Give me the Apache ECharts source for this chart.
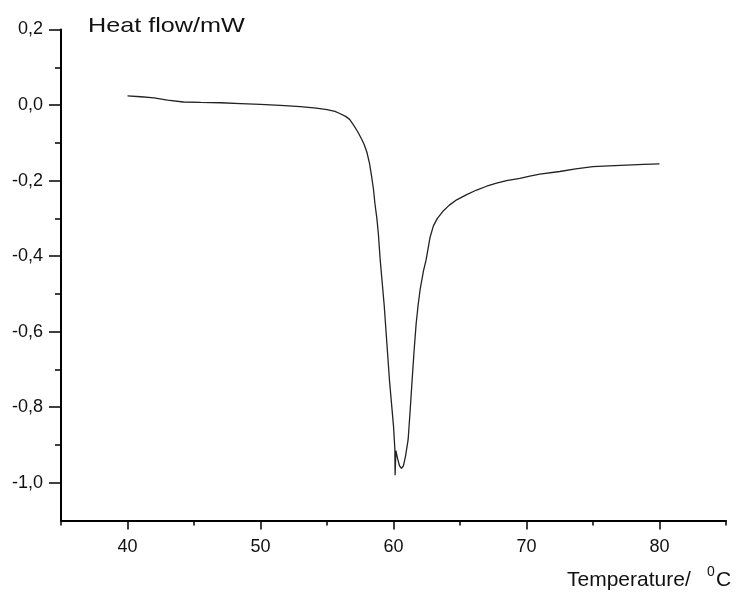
<!doctype html>
<html lang="en">
  <head>
    <meta charset="UTF-8" />
    <title>Heat flow vs temperature</title>
    <style>
      html, body { margin: 0; padding: 0; background: #fff; }
      #chart { width: 746px; height: 596px; }
    </style>
  </head>
  <body>
    <div id="chart"></div>

    <script src="https://cdn.jsdelivr.net/npm/echarts@6/dist/echarts.min.js"></script>
    <script>
      // DSC curve
      const temperature = [
        40.0, 41.0, 42.0, 43.0, 44.2, 45.5, 47.0, 48.5, 50.0, 51.5, 53.0, 54.2, 55.0, 55.6, 56.0,
        56.4, 56.7, 57.0, 57.3, 57.6, 57.8, 58.0, 58.2, 58.36, 58.5, 58.6, 58.75, 58.86, 59.0,
        59.15, 59.3, 59.5, 59.7, 59.85, 60.0, 60.1, 60.12, 60.18, 60.3, 60.45, 60.6, 60.75, 60.9,
        61.1, 61.25, 61.4, 61.55, 61.7, 61.85, 62.0, 62.25, 62.45, 62.5, 62.75, 63.0, 63.3, 63.7,
        64.2, 64.75, 65.5, 66.25, 67.0, 67.75, 68.5, 69.5, 70.25, 71.0, 72.5, 73.7, 75.0, 76.2,
        77.5, 78.8, 80.0
      ]
      const heatFlow = [
        0.024, 0.022, 0.019, 0.013, 0.008, 0.007, 0.006, 0.004, 0.002, -0.001, -0.004, -0.008, -0.012, -0.017, -0.023,
        -0.030, -0.038, -0.053, -0.070, -0.090, -0.105, -0.125, -0.155, -0.19, -0.225, -0.26, -0.30, -0.34, -0.41,
        -0.47, -0.53, -0.63, -0.73, -0.79, -0.85, -0.91, -0.98, -0.915, -0.935, -0.955, -0.962, -0.955, -0.93,
        -0.886, -0.81, -0.728, -0.65, -0.58, -0.53, -0.489, -0.44, -0.41, -0.40, -0.35, -0.32, -0.30, -0.282,
        -0.265, -0.251, -0.237, -0.225, -0.215, -0.207, -0.200, -0.194, -0.188, -0.183, -0.176, -0.169, -0.163, -0.161,
        -0.159, -0.157, -0.156
      ]

      // tick labels
      const xLabels = [40, 50, 60, 70, 80]
      const xMinor = [35, 45, 55, 65, 75, 85]
      const yLabels = [0.2, 0.0, -0.2, -0.4, -0.6, -0.8, -1.0]
      const yMinor = [0.1, -0.1, -0.3, -0.5, -0.7, -0.9]

      const font = 'Liberation Sans, Arial, sans-serif'
      const fmt = v => (Math.abs(v) < 1e-9 ? 0 : v).toFixed(1).replace('.', ',')

      const chart = echarts.init(document.getElementById('chart'))
      const option = {
        animation: false,
        grid: { left: 61, right: 20, top: 29.5, bottom: 75.5, containLabel: false },
        xAxis: [
          {
            type: 'value', min: 35, max: 85,
            axisLine: { onZero: false, lineStyle: { color: '#000', width: 2 } },
            axisTick: { customValues: xLabels, length: 9, lineStyle: { color: '#000', width: 1.5 } },
            axisLabel: { customValues: xLabels, color: '#111', fontFamily: font, fontSize: 18, margin: 18 },
            splitLine: { show: false }
          },
          {
            type: 'value', min: 35, max: 85, position: 'bottom',
            axisLine: { show: false, onZero: false },
            axisTick: { customValues: xMinor, length: 5, lineStyle: { color: '#000', width: 1.5 } },
            axisLabel: { show: false },
            splitLine: { show: false }
          }
        ],
        yAxis: [
          {
            type: 'value', min: -1.1, max: 0.2,
            axisLine: { show: true, onZero: false, lineStyle: { color: '#000', width: 2 } },
            axisTick: { show: true, customValues: yLabels, length: 12, lineStyle: { color: '#000', width: 1.5 } },
            axisLabel: { customValues: yLabels, formatter: fmt, color: '#111', fontFamily: font, fontSize: 18, margin: 18 },
            splitLine: { show: false }
          },
          {
            type: 'value', min: -1.1, max: 0.2, position: 'left',
            axisLine: { show: false, onZero: false },
            axisTick: { show: true, customValues: yMinor, length: 6, lineStyle: { color: '#000', width: 1.5 } },
            axisLabel: { show: false },
            splitLine: { show: false }
          }
        ],
        graphic: [
          {
            type: 'text', left: 88, top: 16, scaleX: 1.2,
            style: { text: 'Heat flow/mW', font: '21px ' + font, fill: '#111' }
          },
          {
            type: 'group', left: 567, top: 565,
            children: [
              { type: 'text', x: 0, y: 5, style: { text: 'Temperature/', font: '21px ' + font, fill: '#111' } },
              { type: 'text', x: 140, y: 0, style: { text: '0', font: '14px ' + font, fill: '#111' } },
              { type: 'text', x: 149, y: 5, style: { text: 'C', font: '21px ' + font, fill: '#111' } }
            ]
          }
        ],
        series: [
          {
            type: 'line',
            xAxisIndex: 0,
            yAxisIndex: 0,
            data: temperature.map((t, i) => [t, heatFlow[i]]),
            showSymbol: false,
            lineStyle: { color: '#222', width: 1.3 }
          }
        ]
      }
      chart.setOption(option)
    </script>
  </body>
</html>
